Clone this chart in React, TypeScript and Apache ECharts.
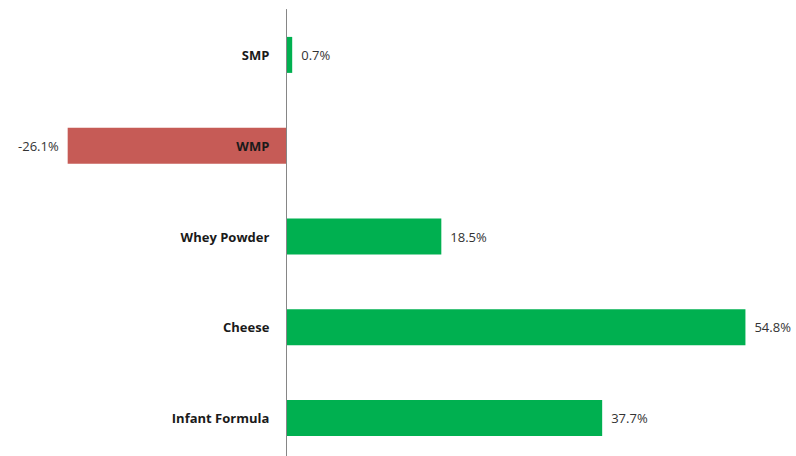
import React, { useEffect, useRef } from "react";
import * as echarts from "echarts";

const categories = ["SMP", "WMP", "Whey Powder", "Cheese", "Infant Formula"];
const values = [0.7, -26.1, 18.5, 54.8, 37.7];

const POS = "#00B050";
const NEG = "#C65B56";

const X_MIN = -30;
const X_MAX = 60;
const GRID_LEFT = 35;
const GRID_WIDTH = 754;

export default function App() {
  const ref = useRef<HTMLDivElement>(null);
  useEffect(() => {
    if (!ref.current) return;
    const chart = echarts.init(ref.current, null, { renderer: "svg" });
    const zeroOffset = (-X_MIN / (X_MAX - X_MIN)) * GRID_WIDTH;
    chart.setOption({
      animation: false,
      grid: {
        left: GRID_LEFT,
        width: GRID_WIDTH,
        top: 9.5,
        height: 454,
        containLabel: false,
        outerBoundsMode: "none",
      },
      xAxis: {
        type: "value",
        min: X_MIN,
        max: X_MAX,
        show: false,
        splitLine: { show: false },
      },
      yAxis: {
        type: "category",
        data: categories,
        inverse: true,
        z: 10,
        offset: -zeroOffset,
        axisLine: { show: true, onZero: false, lineStyle: { color: "#868686", width: 1 } },
        axisTick: { show: false },
        axisLabel: {
          margin: 17,
          fontFamily: "Open Sans",
          fontWeight: "bold",
          fontSize: 13,
          color: "#1a1a1a",
        },
      },
      series: [
        {
          type: "bar",
          barWidth: 36,
          data: values.map((v) => ({
            value: v,
            itemStyle: { color: v >= 0 ? POS : NEG },
            label: { position: v >= 0 ? "right" : "left" },
          })),
          label: {
            show: true,
            distance: 9,
            fontFamily: "Open Sans",
            fontSize: 13,
            color: "#333333",
            formatter: (p: any) => `${p.value.toFixed(1)}%`,
          },
        },
      ],
    });
    return () => chart.dispose();
  }, []);
  return (
    <div
      ref={ref}
      style={{ position: "fixed", left: 0, top: 0, width: 796, height: 472, background: "#fff" }}
    />
  );
}
